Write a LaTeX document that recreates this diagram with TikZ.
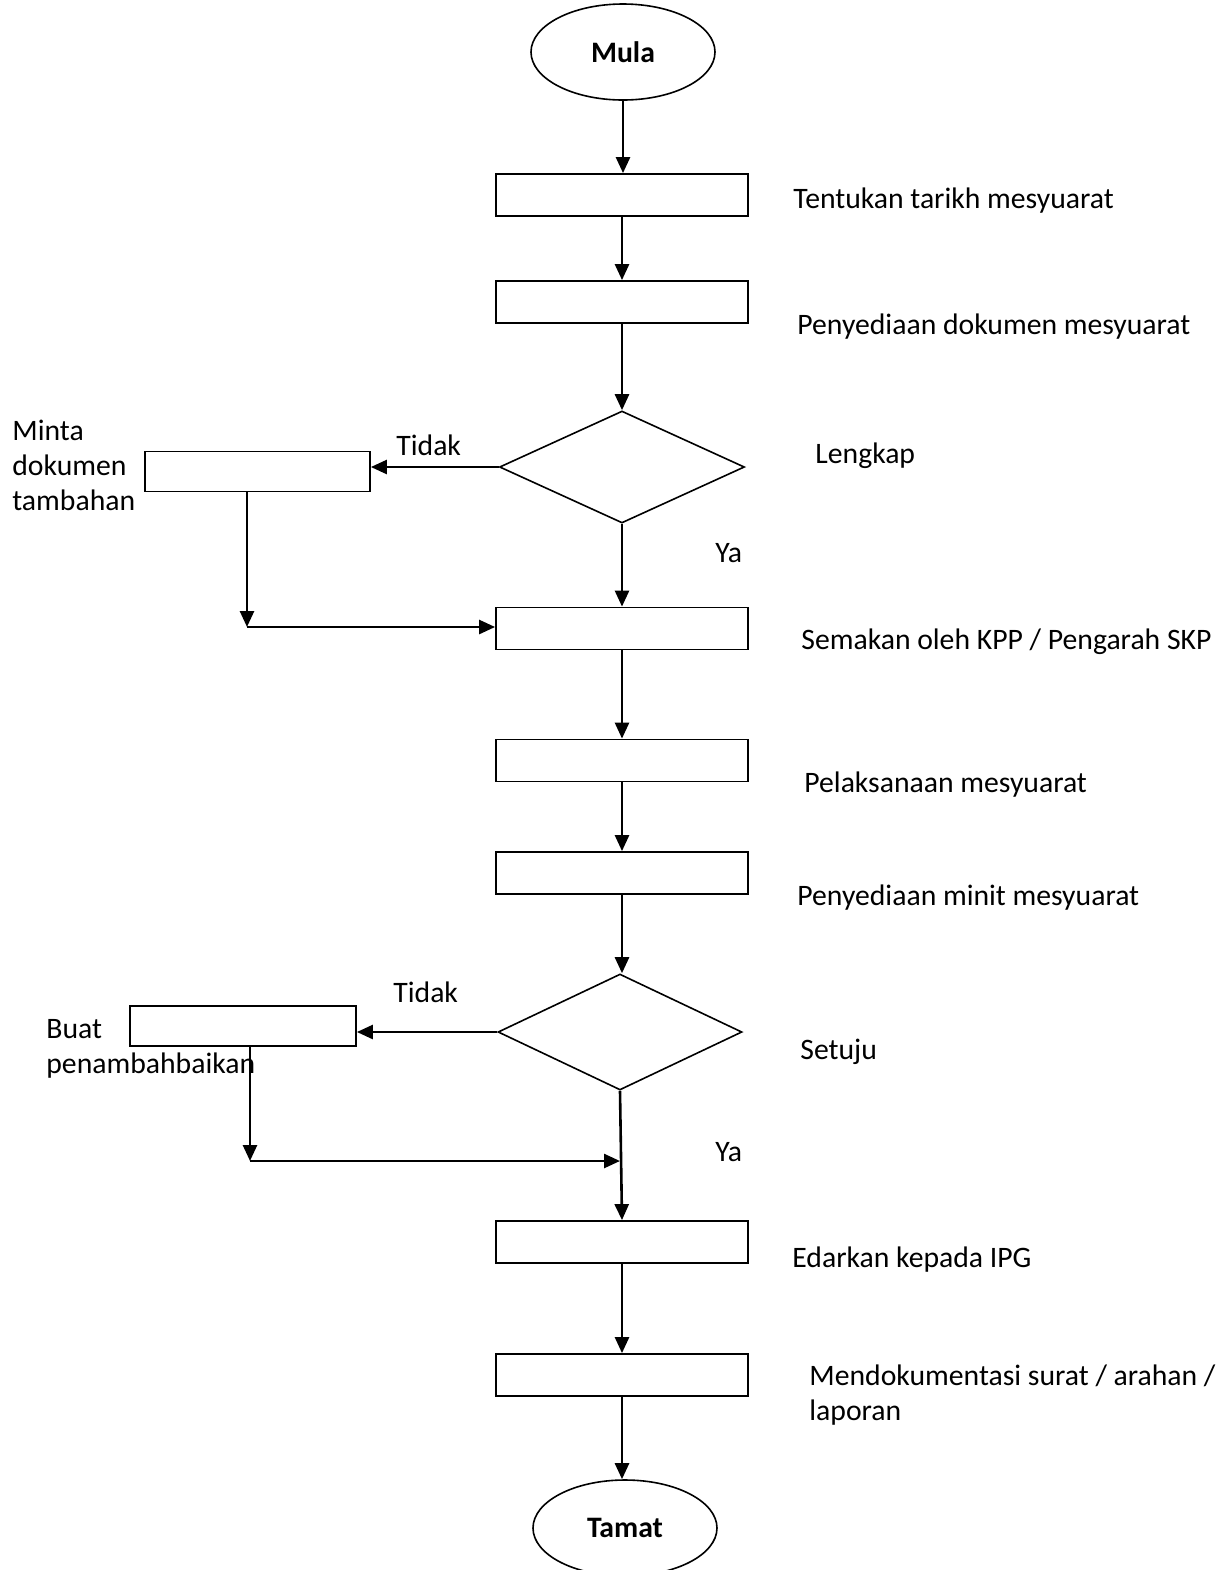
\documentclass[tikz,border=0pt]{standalone}
\usepackage{fontspec}
\setmainfont{Carlito}
\usetikzlibrary{shapes.geometric,arrows.meta}
\begin{document}
\begin{tikzpicture}[x=0.5pt,y=-0.5pt,
  every node/.style={font=\fontsize{14.85}{17.5}\selectfont},
  procbox/.style={draw, line width=0.9pt, rectangle, minimum width=126pt, minimum height=21pt, inner sep=0pt},
  sidebox/.style={draw, line width=0.9pt, rectangle, minimum width=112.5pt, minimum height=20pt, inner sep=0pt},
  decide/.style={draw, line width=0.8pt, diamond, inner sep=0pt},
  term/.style={draw, line width=0.8pt, ellipse, minimum width=92pt, minimum height=48pt, inner sep=0pt, font=\fontsize{14.85}{17.5}\selectfont\bfseries},
  lbl/.style={anchor=mid west, inner sep=0pt},
  mlbl/.style={anchor=base west, inner sep=0pt, align=left},
  flow/.style={line width=1.3pt, -{Triangle[length=8pt, width=7pt]}}
]
\useasboundingbox (0,0) rectangle (1224,1570);

\node[term] (mula) at (623,52) {Mula};
\node[procbox] (b1) at (622,195) {};
\node[procbox] (b2) at (622,302) {};
\node[decide, minimum width=122.5pt, minimum height=56pt] (d1) at (622,467) {};
\node[sidebox] (s1) at (257.5,471.5) {};
\node[procbox] (b3) at (622,628.5) {};
\node[procbox] (b4) at (622,760.5) {};
\node[procbox] (b5) at (622,873) {};
\node[decide, minimum width=122pt, minimum height=58pt] (d2) at (620,1032) {};
\node[sidebox, minimum width=113pt] (s2) at (243,1026) {};
\node[procbox] (b6) at (622,1242) {};
\node[procbox] (b7) at (622,1375) {};
\node[term] (tamat) at (625,1528) {Tamat};

\coordinate (j1) at (247,627);
\coordinate (j2) at (250,1161);
\coordinate (j3) at (d2.south |- j2);

% labels
\node[lbl] (t1) at (793,204) {Tentukan tarikh mesyuarat};
\node[lbl] (t2) at (797,330) {Penyediaan dokumen mesyuarat};
\node[lbl] (t3) at (815,459) {Lengkap};
\node[lbl] (no1) at (396,451) {Tidak};
\node[mlbl] (t4) at (12,510) {Minta\\dokumen\\tambahan};
\node[lbl] (ya1) at (715,558) {Ya};
\node[lbl] (t5) at (801,645) {Semakan oleh KPP / Pengarah SKP};
\node[lbl] (t6) at (804,788) {Pelaksanaan mesyuarat};
\node[lbl] (t7) at (797,901) {Penyediaan minit mesyuarat};
\node[lbl] (no2) at (393,998) {Tidak};
\node[lbl] (t8) at (800,1055) {Setuju};
\node[mlbl] (t9) at (46,1073) {Buat\\penambahbaikan};
\node[lbl] (ya2) at (715,1157) {Ya};
\node[lbl] (t10) at (792,1263) {Edarkan kepada IPG};
\node[mlbl] (t11) at (809,1420) {Mendokumentasi surat / arahan /\\laporan};

% connectors
\draw[flow] (mula) -- (mula.south |- b1.north);
\draw[flow] (b1) -- (b2);
\draw[flow] (b2) -- (d1.north);
\draw[flow] (d1.west) -- (d1.west -| s1.east);
\draw[flow] (s1.south -| j1) -- (j1);
\draw[flow] (j1) -- (j1 -| b3.west);
\draw[flow] (d1.south) -- (b3.north);
\draw[flow] (b3) -- (b4);
\draw[flow] (b4) -- (b5);
\draw[flow] (b5) -- (b5.south |- d2.north);
\draw[flow] (d2.west) -- (d2.west -| s2.east);
\draw[flow] (s2.south -| j2) -- (j2);
\draw[flow] (j2) -- (j3);
\draw[flow] (d2.south) -- (b6.north);
\draw[flow] (b6) -- (b7);
\draw[flow] (b7) -- (b7.south |- tamat.north);
\end{tikzpicture}
\end{document}
